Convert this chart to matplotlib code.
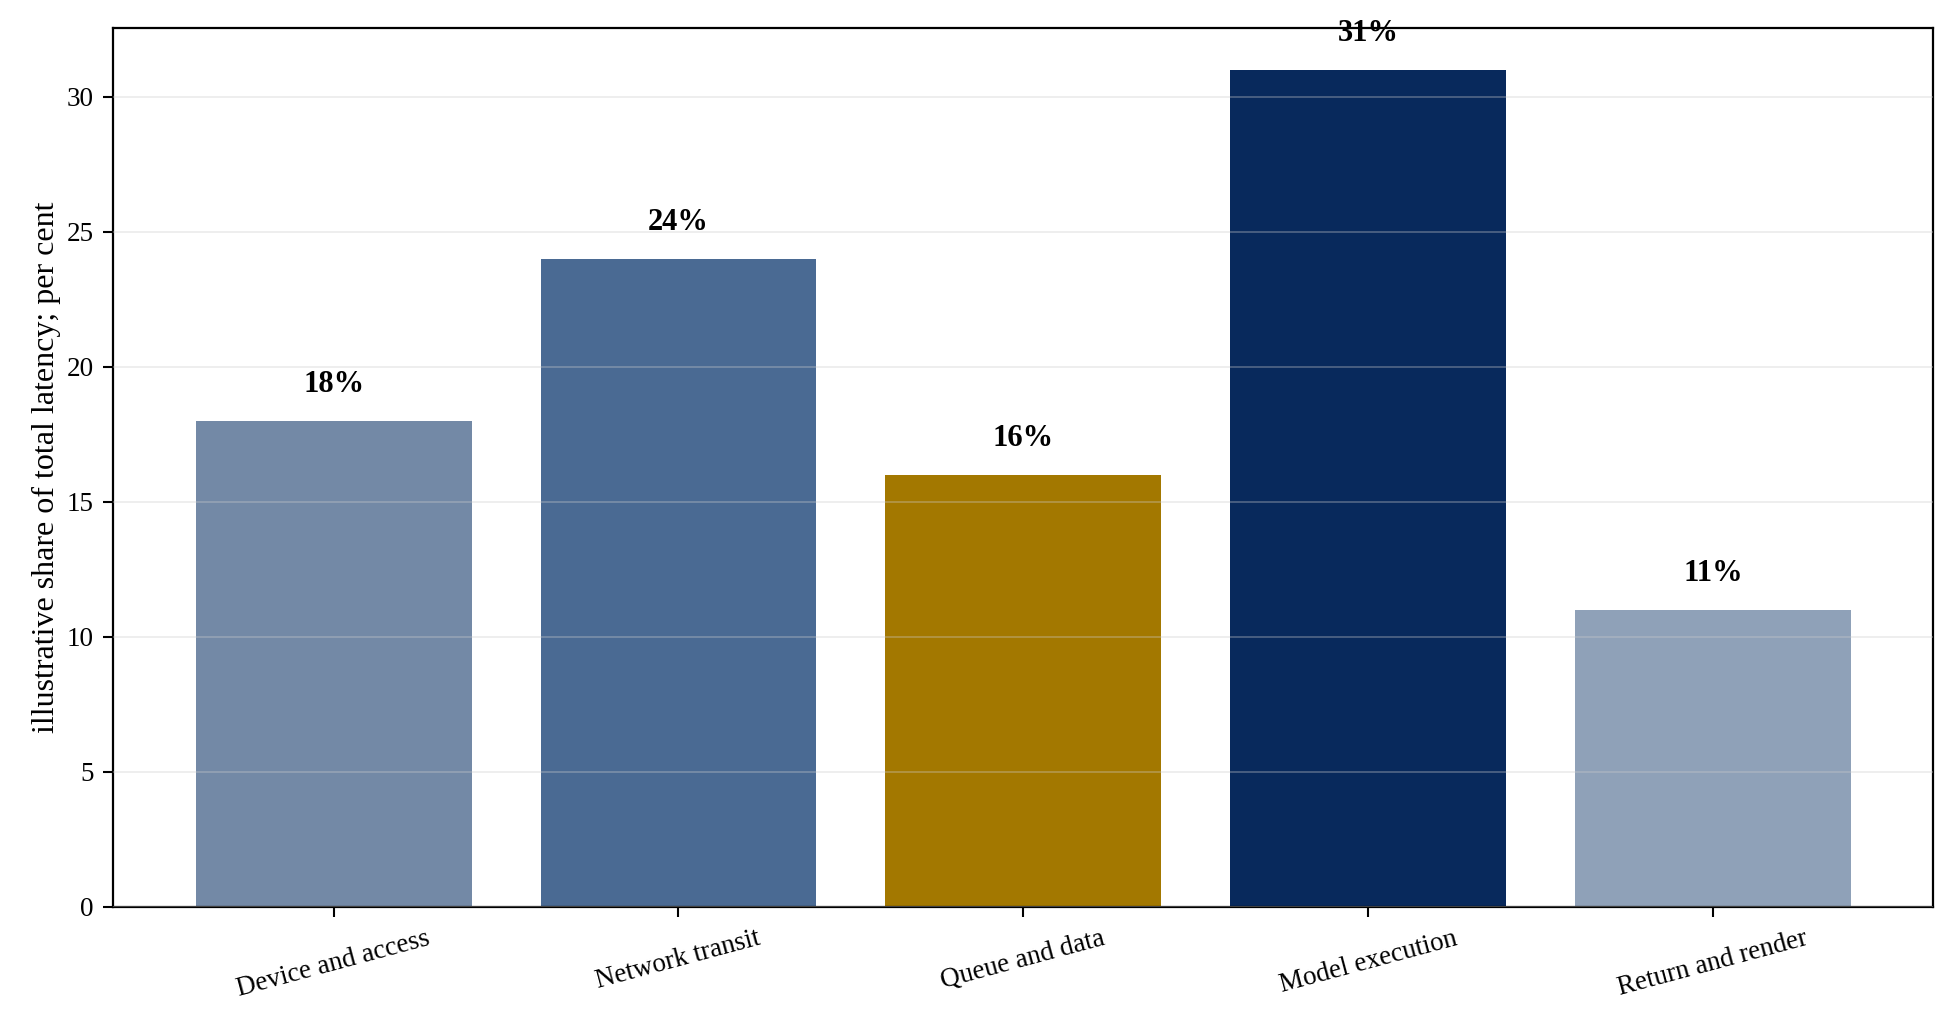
import matplotlib
matplotlib.use("Agg")
import matplotlib.pyplot as plt

categories = ["Device and access", "Network transit", "Queue and data", "Model execution", "Return and render"]
shares = [18, 24, 16, 31, 11]
bar_colors = ["#7389a6", "#4a6a93", "#a37800", "#08295c", "#8fa1b8"]

plt.rcParams['font.family'] = ['Liberation Serif', 'DejaVu Serif']

fig, ax = plt.subplots(figsize=(19.55, 10.28), dpi=100)
fig.subplots_adjust(left=0.0578, right=0.989, top=0.973, bottom=0.118)

x = list(range(len(categories)))
ax.bar(x, shares, width=0.8, color=bar_colors, zorder=1)
ax.set_axisbelow(False)
ax.yaxis.grid(True, color="#cccccc", alpha=0.35, linewidth=1.3, zorder=2)
ax.xaxis.grid(False)

for xi, v in zip(x, shares):
    ax.text(xi, v + 0.8, f"{v}%", ha="center", va="bottom", fontsize=22, fontweight="bold")

ax.set_xticks(x)
ax.set_xticklabels(categories, rotation=15, fontsize=19.5)
ax.tick_params(axis="y", labelsize=19.5)
ax.tick_params(axis="both", length=7.5, width=1.5, pad=6.5)
ax.set_ylabel("illustrative share of total latency; per cent", fontsize=23)
for s in ax.spines.values():
    s.set_linewidth(1.6)

fig.savefig("out.png", dpi=100)
